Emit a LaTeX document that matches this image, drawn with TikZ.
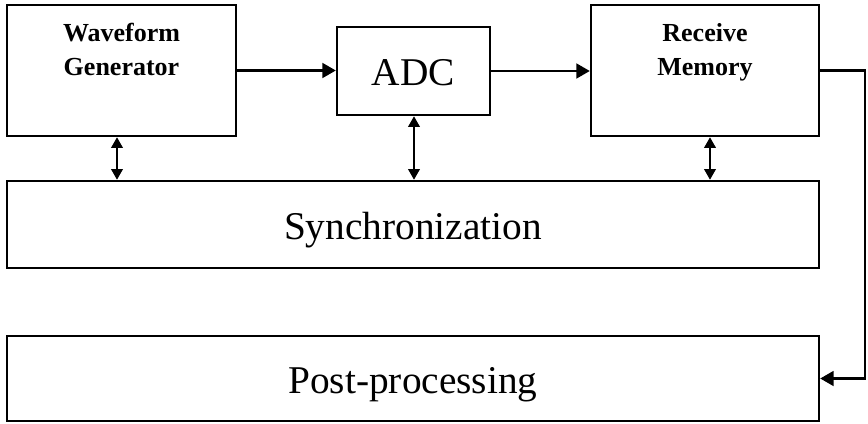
\documentclass[tikz,border=0pt]{standalone}
\usepackage{fontspec}
\setmainfont{Liberation Serif}
\usetikzlibrary{arrows.meta}
\begin{document}
\begin{tikzpicture}[x=0.75pt,y=-0.75pt,
  box/.style={draw, line width=1.8pt, inner sep=0pt},
  big/.style={font=\fontsize{29.5}{34}\selectfont, text height=22.5pt, text depth=0pt},
  small/.style={font=\bfseries\fontsize{19.5}{25.5}\selectfont, align=center, inner sep=0pt},
  conn/.style={line width=1.8pt, -{Triangle[length=10pt,width=11pt]}},
  both/.style={line width=1.8pt, {Triangle[length=8pt,width=8.5pt]}-{Triangle[length=8pt,width=8.5pt]}}]
\useasboundingbox (0,0) rectangle (868,424);

% blocks
\node[box, minimum width=171.75pt, minimum height=98.25pt] (wg) at (121.5,70.5) {};
\node[small] (wgtxt) at (121.5,52) {Waveform\strut\\Generator\strut};
\node[box, big, minimum width=114.75pt, minimum height=66pt] (adc) at (413.5,71) {ADC};
\node[box, minimum width=171pt, minimum height=98.25pt] (rm) at (705,70.5) {};
\node[small] (rmtxt) at (705,52) {Receive\strut\\Memory\strut};
\node[box, big, minimum width=609pt, minimum height=65.25pt] (sync) at (413,224.5) {Synchronization};
\node[box, big, minimum width=609pt, minimum height=63.75pt] (post) at (413,378.5) {Post-processing};

% signal path
\draw[conn] (wg.east) -- (wg.east -| adc.west);
\draw[conn] (adc.east) -- (adc.east -| rm.west);
\coordinate (rx) at (865,0);
\draw[conn] (rm.east) -- (rm.east -| rx) -- (post.east -| rx) -- (post.east);

% synchronization links
\coordinate (x1) at (117,0);
\coordinate (x2) at (414,0);
\coordinate (x3) at (710,0);
\draw[both] (x1 |- wg.south) -- (x1 |- sync.north);
\draw[both] (x2 |- adc.south) -- (x2 |- sync.north);
\draw[both] (x3 |- rm.south) -- (x3 |- sync.north);
\end{tikzpicture}
\end{document}
